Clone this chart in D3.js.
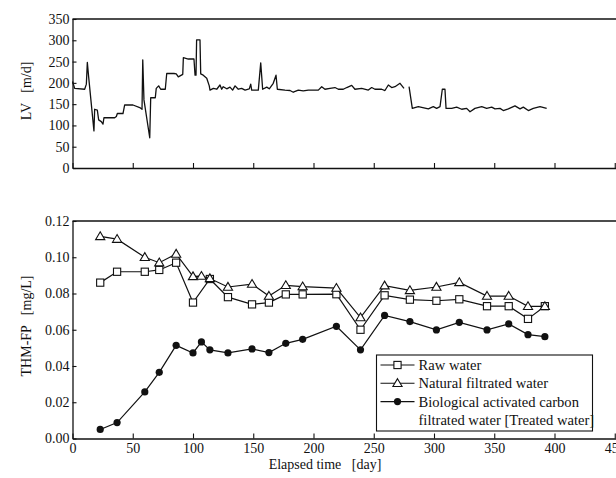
<!DOCTYPE html>
<html>
<head>
<meta charset="utf-8">
<script src="https://cdn.jsdelivr.net/npm/d3@7/dist/d3.min.js"></script>
<style>
	body{margin:0; background:#fff;}
	svg{display:block;}
	text{font-family:"Liberation Serif", "Times New Roman", serif; fill:#111;}
</style>
</head>
<body>
<div id="chart"></div>
<script>
// LV trace, digitised (null = gap in record)
const lvDays = [0, 0.4, 1.8, 10.1, 11.5, 12.3, 13.4, 17.8, 18.4, 20.6, 21.7, 23.9, 25.3, 26.1, 35, 36.4, 37.2, 41.9, 43.3, 50.2, 55.8, 57.7, 58.3, 59.3, 64.1, 64.9, 68.7, 69.5, 71.5, 73.2, 77, 78.2, 84.2, 86.1, 87.8, 91.5, 92, 96.1, 100.8, 101.7, 102.5, 103, 105.8, 106.4, 108.5, 111.4, 113.5, 114.1,
	116.9, 119.7, 122.4, 123.8, 125.1, 128, 130.7, 132.9, 134.9, 137.6, 140.4, 143.2, 146.7, 147.9, 148.7, 154.2, 156.2, 157.8, 161.2, 163.3, 166.6, 168.9, 170, 176.3, 180.5, 183.2, 187.4, 191.5, 195.7, 204, 206.8, 209.5, 213.7, 217.8, 220.6, 224.7, 227.6, 231.7, 234.4, 240, 245.5, 248.3, 251, 256.6, 259.3, 262.1, 264.9, 267.6, 271.8, 275.1,
	277,
	279.3, 282, 287, 295.3, 299.4, 302.2, 305, 306.9, 309.1, 310, 314.7, 318.8, 323, 327.1, 329.9, 334, 339.6, 343.7, 347.9, 350.6, 354.8, 357.5, 361.7, 367.2, 371.4, 374.1, 378.3, 382.4, 388, 393.5];
const lvValues = [203, 200, 187, 185, 197, 248, 214, 87, 138, 136, 113, 109, 103, 118, 118, 121, 128, 128, 148, 148, 142, 138, 254, 160, 71, 165, 165, 187, 193, 185, 185, 222, 222, 221, 214, 220, 259, 256, 256, 218, 218, 301, 301, 221, 218, 211, 193, 183,
	187, 185, 195, 185, 191, 186, 190, 183, 193, 185, 187, 183, 186, 197, 183, 183, 247, 185, 190, 186, 199, 218, 185, 183, 182, 178, 183, 181, 183, 183, 191, 185, 187, 189, 185, 185, 189, 194, 185, 187, 183, 189, 185, 185, 182, 195, 189, 191, 199, 187,
	null,
	191, 140, 144, 139, 144, 140, 144, 185, 185, 140, 140, 143, 138, 140, 132, 140, 144, 140, 143, 139, 140, 135, 139, 146, 139, 143, 135, 140, 144, 140];

// THM-FP sampling
const sampleDays = [23, 37, 60, 72, 86, 100, 107, 114, 129, 149, 163, 177, 191, 219, 239, 259, 280, 302, 321, 344, 362, 378, 392];
const rawWater = [0.086, 0.092, 0.092, 0.093, 0.097, 0.075, null, 0.088, 0.078, 0.074, 0.075, 0.0795, 0.0795, 0.0796, 0.060, 0.079, 0.0766, 0.076, 0.0768, 0.073, 0.073, 0.066, 0.073];
const naturalWater = [0.1115, 0.110, 0.100, 0.097, 0.1018, 0.0894, 0.0896, 0.0883, 0.0836, 0.0852, 0.0786, 0.0845, 0.0838, 0.0830, 0.0667, 0.0843, 0.0817, 0.0836, 0.0861, 0.0786, 0.0786, 0.0729, 0.0729];
const treatedWater = [0.005, 0.0088, 0.0257, 0.0365, 0.0514, 0.0472, 0.0533, 0.0489, 0.0472, 0.0494, 0.0474, 0.0525, 0.0547, 0.0619, 0.0489, 0.0679, 0.0645, 0.0599, 0.0641, 0.0599, 0.0632, 0.0573, 0.0562];

const xTicks = [0, 50, 100, 150, 200, 250, 300, 350, 400, 450];
const lvTicks = [0, 50, 100, 150, 200, 250, 300, 350];
const thmTicks = [0, 0.02, 0.04, 0.06, 0.08, 0.10, 0.12];
const legendLabels = [["Raw water"], ["Natural filtrated water"], ["Biological activated carbon", "filtrated water [Treated water]"]];

const w = 616, h = 478,
	ink = "#111",
	fontSize = 14;

let svg = d3.select("#chart").append("svg").attr("width", w).attr("height", h);

// shared x scale, right edge of the frame runs off the picture
let scaleX = d3.scaleLinear().domain([0, 460]).range([72.5, 626.8]);
let scaleLV = d3.scaleLinear().domain([0, 350]).range([168, 19]);
let scaleTHM = d3.scaleLinear().domain([0, 0.12]).range([438.5, 221]);

function styleAxis(g){
	g.selectAll("path.domain").attr("stroke", ink).attr("stroke-width", 1.3);
	g.selectAll(".tick line").attr("stroke", ink).attr("stroke-width", 1.1);
	g.selectAll(".tick text").style("font-size", fontSize + "px").style("font-family", '"Liberation Serif", serif').attr("fill", ink);
}

function drawFrame(scaleY, yTicks, yFormat, showXLabels){
	let yTop = scaleY.range()[1], yBottom = scaleY.range()[0];
	let xAxis = d3.axisBottom(scaleX).tickValues(xTicks).tickSizeInner(-5).tickSizeOuter(0).tickPadding(5);
	if(!showXLabels){
		xAxis.tickFormat("");
	}
	svg.append("g").attr("transform", "translate(0," + yBottom + ")").call(xAxis).call(styleAxis);
	let yAxis = d3.axisLeft(scaleY).tickValues(yTicks).tickFormat(yFormat).tickSizeInner(-4).tickSizeOuter(0).tickPadding(3);
	svg.append("g").attr("transform", "translate(" + scaleX(0) + ",0)").call(yAxis).call(styleAxis);
	// top border
	svg.append("line")
		.attr("x1", scaleX(0)).attr("x2", w)
		.attr("y1", yTop).attr("y2", yTop)
		.attr("stroke", ink).attr("stroke-width", 1.3);
}

// ---- top panel: LV
drawFrame(scaleLV, lvTicks, d3.format("d"), false);

let lvPoints = lvDays.map(function(d, i){ return [d, lvValues[i]]; });
svg.append("path")
	.datum(lvPoints)
	.attr("d", d3.line()
		.defined(function(p){ return p[1] !== null; })
		.x(function(p){ return scaleX(p[0]); })
		.y(function(p){ return scaleLV(p[1]); }))
	.attr("fill", "none")
	.attr("stroke", ink)
	.attr("stroke-width", 1.3)
	.attr("stroke-linejoin", "round");

svg.append("text")
	.attr("transform", "translate(31,91) rotate(-90)")
	.attr("text-anchor", "middle")
	.style("font-size", fontSize + "px")
	.attr("xml:space", "preserve")
	.text("LV   [m/d]");

// ---- bottom panel: THM-FP
drawFrame(scaleTHM, thmTicks, d3.format(".2f"), true);

let series = [
	{values: rawWater, marker: "square"},
	{values: naturalWater, marker: "triangle"},
	{values: treatedWater, marker: "circle"}
];

function drawMarker(g, type, cx, cy){
	if(type === "square"){
		g.append("rect")
			.attr("x", cx - 3.6).attr("y", cy - 3.6)
			.attr("width", 7.2).attr("height", 7.2)
			.attr("fill", "#fff").attr("stroke", ink).attr("stroke-width", 1.1);
	}else if(type === "triangle"){
		g.append("path")
			.attr("d", "M" + cx + "," + (cy - 4.6) + "L" + (cx + 4.6) + "," + (cy + 3.2) + "L" + (cx - 4.6) + "," + (cy + 3.2) + "Z")
			.attr("fill", "#fff").attr("stroke", ink).attr("stroke-width", 1.1);
	}else{
		g.append("circle")
			.attr("cx", cx).attr("cy", cy).attr("r", 3.6)
			.attr("fill", ink);
	}
}

series.forEach(function(s){
	let pts = [];
	sampleDays.forEach(function(d, i){
		if(s.values[i] !== null){
			pts.push([d, s.values[i]]);
		}
	});
	let g = svg.append("g");
	g.append("path")
		.datum(pts)
		.attr("d", d3.line()
			.x(function(p){ return scaleX(p[0]); })
			.y(function(p){ return scaleTHM(p[1]); }))
		.attr("fill", "none")
		.attr("stroke", ink)
		.attr("stroke-width", 1.2);
	pts.forEach(function(p){
		drawMarker(g, s.marker, scaleX(p[0]), scaleTHM(p[1]));
	});
});

svg.append("text")
	.attr("transform", "translate(31,326) rotate(-90)")
	.attr("text-anchor", "middle")
	.style("font-size", fontSize + "px")
	.attr("xml:space", "preserve")
	.text("THM-FP   [mg/L]");

svg.append("text")
	.attr("x", 325)
	.attr("y", 469)
	.attr("text-anchor", "middle")
	.style("font-size", fontSize + "px")
	.attr("xml:space", "preserve")
	.text("Elapsed time   [day]");

// ---- legend
let legendG = svg.append("g").attr("transform", "translate(376.5,355)");
legendG.append("rect")
	.attr("width", 216)
	.attr("height", 76)
	.attr("fill", "#fff")
	.attr("stroke", ink)
	.attr("stroke-width", 1.1);

let rowGap = 18.3;
series.forEach(function(s, si){
	let cy = 10 + rowGap * si;
	legendG.append("line")
		.attr("x1", 4).attr("x2", 38)
		.attr("y1", cy).attr("y2", cy)
		.attr("stroke", ink).attr("stroke-width", 1.1);
	drawMarker(legendG, s.marker, 21, cy);
	legendLabels[si].forEach(function(line, li){
		legendG.append("text")
			.attr("x", 42)
			.attr("y", cy + rowGap * li)
			.attr("dominant-baseline", "central")
			.style("font-size", "14.6px")
			.text(line);
	});
});
</script>
</body>
</html>
